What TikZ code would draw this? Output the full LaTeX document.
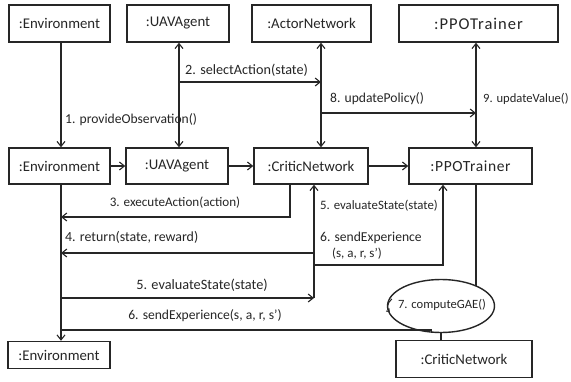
\documentclass[tikz,border=0pt]{standalone}
\usepackage{fontspec}
\setmainfont{Carlito}
\usetikzlibrary{arrows.meta,calc,shapes.geometric}
\definecolor{ink}{HTML}{262626}
\begin{document}
\begin{tikzpicture}[x=1pt,y=-1pt,
  box/.style={draw=ink, line width=1.4pt, minimum height=37pt, inner sep=0pt, text=ink, font=\fontsize{14.8}{17}\selectfont},
  msg/.style={draw=ink, line width=1.1pt},
  arr/.style={-{Straight Barb[length=5pt,width=8pt]}},
  arrb/.style={{Straight Barb[length=5pt,width=8pt]}-{Straight Barb[length=5pt,width=8pt]}},
  lbl/.style={font=\fontsize{13.6}{15}\selectfont, inner sep=0pt, text=ink},
  fs/.style={font=\fontsize{#1}{#1}\selectfont},
]
\fill[white] (0,0) rectangle (571,381);
\useasboundingbox (0,0) rectangle (571,381);

% objects
\node[box, minimum width=101pt] (e1) at (59.5,23.5) {:Environment};
\node[box, minimum width=102pt] (u1) at (178,23.5) {:UAVAgent};
\node[box, minimum width=119pt] (a1) at (311.5,23.5) {:ActorNetwork};
\node[box, fs=16.5, minimum width=159pt] (p1) at (478.5,23.5) {\addfontfeatures{LetterSpace=6}:PPOTrainer};

\node[box, minimum width=101pt, minimum height=36pt] (e2) at (59.5,166) {:Environment};
\node[box, minimum width=102pt, minimum height=36pt] (u2) at (177,166) {:UAVAgent};
\node[box, minimum width=114pt, minimum height=36pt] (c2) at (311,166) {:CriticNetwork};
\node[box, fs=15.5, minimum width=123pt, minimum height=36pt] (p2) at (470.5,166) {\addfontfeatures{LetterSpace=4}:PPOTrainer};

\node[box, minimum width=102pt, minimum height=27pt] (e3) at (59,355) {:Environment};
\node[box, minimum width=136pt] (c3) at (464,359) {:CriticNetwork};

\node[draw=ink, line width=1.4pt, ellipse, minimum width=107pt, minimum height=53pt, inner sep=0pt] (g) at (441,306) {};
\node[lbl, fs=12.6] (gl) at (442,305) {7. computeGAE()};

% lifeline positions
\coordinate (xE) at (61,0);
\coordinate (xU) at (179,0);
\coordinate (xA) at (321,0);
\coordinate (xP) at (476,0);
\coordinate (xC3) at (290,0);
\coordinate (xC5) at (314,0);
\coordinate (xP6) at (443,0);
\coordinate (y2) at (0,82);
\coordinate (y8) at (0,113);
\coordinate (y3) at (0,217);
\coordinate (y4) at (0,253);
\coordinate (y6a) at (0,265);
\coordinate (y5) at (0,298);
\coordinate (y6b) at (0,330);
\coordinate (gtop) at (476,285.5);

% top part
\draw[msg,arr] (xE |- e1.south) -- (xE |- e2.north);
\draw[msg,arrb] (xU |- u1.south) -- (xU |- u2.north);
\draw[msg,arr] (xU |- y2) -- (xA |- y2);
\draw[msg,arrb] (xA |- a1.south) -- (xA |- c2.north);
\draw[msg,arr] (xA |- y8) -- (xP |- y8);
\draw[msg,arrb] (xP |- p1.south) -- (xP |- p2.north);

% middle row
\draw[msg,arr] (e2.east) -- (u2.west);
\draw[msg,arr] (u2.east) -- (c2.west);
\draw[msg,arr] (c2.east) -- (p2.west);

% lower part
\draw[msg,arr] (xE |- e2.south) -- (xE |- e3.north);
\draw[msg,arr] (xC3 |- c2.south) -- (xC3 |- y3) -- (xE |- y3);
\draw[msg,arr] (xC5 |- y5) -- (xC5 |- c2.south);
\draw[msg,arr] (xC5 |- y4) -- (xE |- y4);
\draw[msg,arr] (xC5 |- y6a) -- (xP6 |- y6a) -- (xP6 |- p2.south);
\draw[msg,arr] (xE |- y5) -- (xC5 |- y5);
\draw[msg] (xP |- p2.south) -- (gtop);
\draw[msg] (xE |- y6b) -- (g.250 |- y6b) -- (g.250);
\draw[msg] (g.south) -- (g.south |- c3.north);
\draw[ink, line width=1pt, -{Straight Barb[length=2.5pt,width=4pt]}] ($(g.west)+(5,-7)$) .. controls ($(g.west)+(0,-3)$) and ($(g.west)+(0,3)$) .. ($(g.west)+(3,6)$);

% labels
\node[lbl, anchor=west] (l1) at (65,120) {1. provideObservation()};
\node[lbl, fs=14.2, anchor=west] (l2) at (185,70) {2. selectAction(state)};
\node[lbl, anchor=west] (l8) at (330,99) {8. updatePolicy()};
\node[lbl, fs=12.6, anchor=west] (l9) at (483,99) {9. updateValue()};
\node[lbl, fs=13.1] (l3) at (175,203) {3. executeAction(action)};
\node[lbl, fs=13.9, anchor=west] (l4) at (65,237) {4. return(state, reward)};
\node[lbl, fs=12.8, anchor=west] (l5a) at (320,206) {5. evaluateState(state)};
\node[lbl, anchor=west] (l6a) at (320,238) {6. sendExperience};
\node[lbl, fs=13, anchor=west] (l6c) at (332,254) {(s, a, r, s')};
\node[lbl, fs=14.3] (l5b) at (202,285) {5. evaluateState(state)};
\node[lbl] (l6b) at (205,316) {6. sendExperience(s, a, r, s')};
\end{tikzpicture}
\end{document}
